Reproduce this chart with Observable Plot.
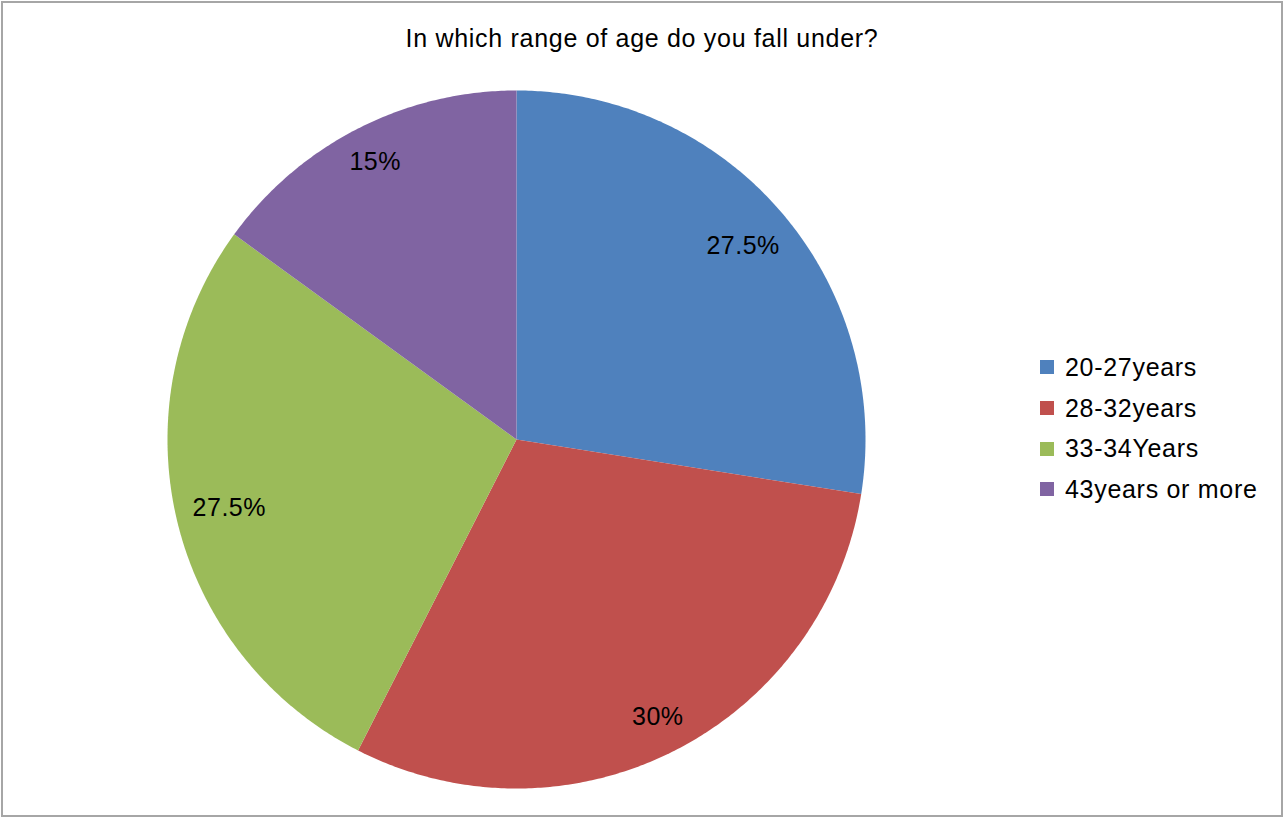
<!DOCTYPE html>
<html><head><meta charset="utf-8">
<script src="https://cdn.jsdelivr.net/npm/d3@7"></script>
<script src="https://cdn.jsdelivr.net/npm/@observablehq/plot@0.6"></script>
<style>
html,body{margin:0;padding:0;background:#fff;}
#wrap{position:relative;width:1284px;height:817px;overflow:hidden;font-family:"Liberation Sans",Arial,sans-serif;}
#frame{position:absolute;left:1px;top:1px;width:1282px;height:816px;box-sizing:border-box;border:2px solid #a6a6a6;pointer-events:none;}
#title{position:absolute;left:0;top:24px;width:1284px;text-align:center;font-size:25px;letter-spacing:0.7px;line-height:28px;color:#000;}
#chart{position:absolute;left:0;top:0;}
#chart svg text{letter-spacing:0.5px;}
#legend{position:absolute;left:1040px;top:347px;}
.lg-swatch{height:40.7px;padding-bottom:0 !important;letter-spacing:0.7px;}
.lg-swatch > svg{margin-right:11px !important;}
</style></head><body>
<div id="wrap"><div id="chart"></div><div id="title">In which range of age do you fall under?</div><div id="legend"></div><div id="frame"></div></div>
<script>
const categories = ["20-27years", "28-32years", "33-34Years", "43years or more"];
const values = [27.5, 30, 27.5, 15];
const labels = ["27.5%", "30%", "27.5%", "15%"];
const colors = ["#4F81BD", "#C0504D", "#9BBB59", "#8064A2"];

const FONT = "'Liberation Sans', Arial, sans-serif";
const LABEL_SIZE = 25;
const R_PX = 349;      // pie radius in pixels (from the frame margins below)
const EDGE_PAD = 15;   // inside-end label padding, pixels

const ctx = document.createElement("canvas").getContext("2d");
ctx.font = `${LABEL_SIZE}px ${FONT}`;

const total = d3.sum(values);
let acc = 0;
const slices = categories.map((c, i) => {
  const a0 = acc / total * 2 * Math.PI;
  acc += values[i];
  const a1 = acc / total * 2 * Math.PI;
  const mid = (a0 + a1) / 2;
  const w = ctx.measureText(labels[i]).width + labels[i].length * 0.5;
  const h = LABEL_SIZE;
  const inset = Math.abs(Math.sin(mid)) * w / 2 + Math.abs(Math.cos(mid)) * h / 2;
  const r = (R_PX - EDGE_PAD - inset) / R_PX;
  return {category: c, label: labels[i], a0, a1, mid, r};
});
const pt = (a, r = 1) => [r * Math.sin(a), -r * Math.cos(a)];
function sectorRing(a0, a1) {
  const n = Math.max(2, Math.ceil((a1 - a0) / (Math.PI / 360)));
  const ring = [[0, 0]];
  for (let k = 0; k <= n; k++) ring.push(pt(a0 + (a1 - a0) * k / n));
  ring.push([0, 0]);
  return ring;
}
const features = slices.map(s => ({
  type: "Feature",
  properties: {category: s.category},
  geometry: {type: "Polygon", coordinates: [sectorRing(s.a0, s.a1)]}
}));
const circle = {type: "Polygon", coordinates: [sectorRing(0, 2 * Math.PI).slice(1, -1)]};

const plot = Plot.plot({
  width: 1284,
  height: 817,
  marginLeft: 167,
  marginRight: 419,
  marginTop: 90,
  marginBottom: 29,
  projection: {type: "identity", domain: circle},
  color: {domain: categories, range: colors},
  style: {fontFamily: FONT, background: "transparent"},
  marks: [
    Plot.geo(features, {fill: d => d.properties.category}),
    Plot.text(slices, {
      x: d => pt(d.mid, d.r)[0],
      y: d => pt(d.mid, d.r)[1],
      text: "label",
      fontSize: LABEL_SIZE,
      fill: "#000"
    })
  ]
});
document.getElementById("chart").appendChild(plot);

const legend = Plot.legend({
  color: {domain: categories, range: colors},
  legend: "swatches",
  columns: 1,
  swatchSize: 14,
  className: "lg",
  style: {fontFamily: FONT, fontSize: "25px", color: "#000"}
});
document.getElementById("legend").appendChild(legend);
</script>
</body></html>
